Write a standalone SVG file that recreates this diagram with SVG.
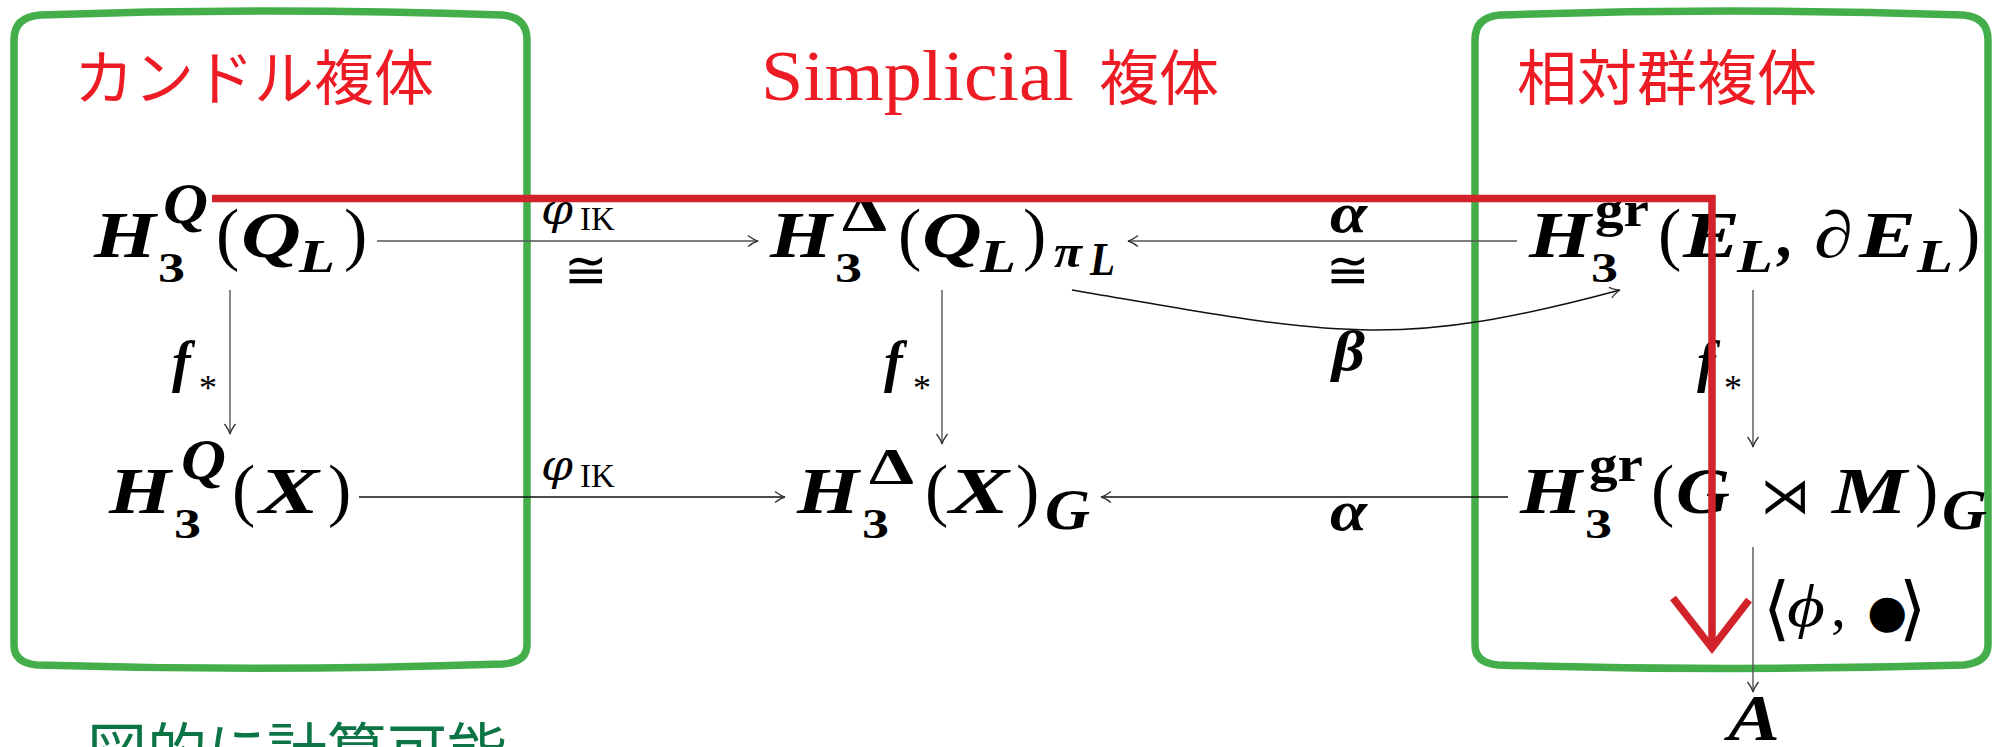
<svg xmlns="http://www.w3.org/2000/svg" width="2002" height="747" viewBox="0 0 2002 747">
<style>
.title{font-family:"Noto Sans CJK JP","Noto Sans",sans-serif;font-size:60px;fill:#ed1c24}
.serifT{font-family:"Liberation Serif",serif;font-size:72px;fill:#ed1c24}
.note{font-family:"Noto Sans CJK JP","Noto Sans",sans-serif;font-size:60px;fill:#0d7446}
.m{font-family:"Liberation Serif","DejaVu Serif",serif;fill:#000}
.bi{font-weight:bold;font-style:italic;font-size:66px}
.sup{font-weight:bold;font-style:italic;font-size:56px}
.supr{font-weight:bold;font-size:50px}
.s3{font-weight:bold;font-size:42px}
.sl{font-weight:bold;font-style:italic;font-size:46px}
.par{font-size:70px}
.lab{font-family:"DejaVu Serif",serif;font-style:italic;font-size:42px}
.labb{font-weight:bold;font-style:italic;font-size:56px}
.ik{font-size:33px}
.ast{font-size:36px}
.cong{font-family:"DejaVu Serif",serif;font-size:52px}
.sym{font-family:"DejaVu Sans",sans-serif}
.box{fill:none;stroke:#43ae4a;stroke-width:7.5;stroke-linejoin:round}
.c{fill:none;stroke:#555;stroke-width:1.4}
.k{fill:none;stroke:#111;stroke-width:1.5}
.red{fill:none;stroke:#d2232a;stroke-width:7.5;stroke-linejoin:miter}
</style>
<defs>
<marker id="ah" viewBox="-12 -7 14 14" markerWidth="14" markerHeight="14" refX="0" refY="0" orient="auto" markerUnits="userSpaceOnUse">
<path d="M-10,-5.5 Q-4,-1 0,0 Q-4,1 -10,5.5" fill="none" stroke="#333" stroke-width="1.3"/>
</marker>
</defs>

<g id="box-quandle">
<path class="box" d="M14,645 L14,40 Q14,17 40,15 Q270,7 502,15 Q527,17 527,40 L527,645 Q527,662 503,664 Q270,672 37,665 Q14,663 14,645 Z"/>
<text class="title" x="74" y="100">カンドル複体</text>
</g>

<g id="title-simplicial">
<text class="serifT" x="761" y="100" textLength="313" lengthAdjust="spacingAndGlyphs">Simplicial</text>
<text class="title" x="1099" y="100">複体</text>
</g>

<g id="box-group">
<path class="box" d="M1475,645 L1475,40 Q1475,17 1500,15 Q1730,7 1963,15 Q1988,17 1988,40 L1988,645 Q1988,662 1964,665 Q1730,672 1498,665 Q1475,663 1475,645 Z"/>
<text class="title" x="1517" y="100">相対群複体</text>
</g>

<g id="connectors">
<line class="c" x1="377" y1="241" x2="758" y2="241" marker-end="url(#ah)"/>
<line class="c" x1="1517" y1="241" x2="1128" y2="241" marker-end="url(#ah)"/>
<line class="k" x1="359" y1="497" x2="785" y2="497" marker-end="url(#ah)"/>
<line class="k" x1="1508" y1="497" x2="1101" y2="497" marker-end="url(#ah)"/>
<line class="c" x1="230" y1="290" x2="230" y2="434" marker-end="url(#ah)"/>
<line class="c" x1="942" y1="290" x2="942" y2="444" marker-end="url(#ah)"/>
<line class="c" x1="1753" y1="290" x2="1753" y2="447" marker-end="url(#ah)"/>
<line class="c" x1="1753" y1="547" x2="1753" y2="692" marker-end="url(#ah)"/>
<path class="k" d="M1072,290 C1330,334 1390,352 1620,290" marker-end="url(#ah)"/>
<g id="labels">
<text class="m"><tspan class="lab" x="541" y="224" textLength="32" lengthAdjust="spacingAndGlyphs">φ</tspan><tspan class="ik" x="580" y="230">IK</tspan></text>
<text class="cong" x="564" y="288">≅</text>
<text class="m"><tspan class="lab" x="541" y="480" textLength="32" lengthAdjust="spacingAndGlyphs">φ</tspan><tspan class="ik" x="580" y="487">IK</tspan></text>
<text class="m labb" x="1330" y="232" textLength="37" lengthAdjust="spacingAndGlyphs">α</text>
<text class="cong" x="1326" y="288">≅</text>
<text class="m labb" x="1332" y="370" textLength="33" lengthAdjust="spacingAndGlyphs">β</text>
<text class="m labb" x="1330" y="530" textLength="37" lengthAdjust="spacingAndGlyphs">α</text>
<text class="m"><tspan class="labb" x="172" y="381">f</tspan><tspan class="ast" x="199" y="400">*</tspan></text>
<text class="m"><tspan class="labb" x="884" y="381">f</tspan><tspan class="ast" x="913" y="400">*</tspan></text>
<text class="m"><tspan class="labb" x="1697" y="381">f</tspan><tspan class="ast" x="1724" y="400">*</tspan></text>
<text class="m" font-size="60"><tspan class="sym" font-size="70" x="1763" y="632">⟨</tspan><tspan font-style="italic" x="1787" y="626" textLength="38" lengthAdjust="spacingAndGlyphs">ϕ</tspan><tspan x="1831" y="626">,</tspan><tspan class="sym" font-size="46" x="1867" y="627">●</tspan><tspan class="sym" font-size="70" x="1899" y="632">⟩</tspan></text>
</g>
</g>

<g id="node-hq-ql">
<text class="m"><tspan class="bi" x="94" y="257" textLength="62" lengthAdjust="spacingAndGlyphs">H</tspan><tspan class="sup" x="163" y="223" textLength="45" lengthAdjust="spacingAndGlyphs">Q</tspan><tspan class="s3" x="158" y="282" textLength="27" lengthAdjust="spacingAndGlyphs">3</tspan><tspan class="par" x="216" y="257">(</tspan><tspan class="bi" x="241" y="257" textLength="60" lengthAdjust="spacingAndGlyphs">Q</tspan><tspan class="sl" x="299" y="272" textLength="36" lengthAdjust="spacingAndGlyphs">L</tspan><tspan class="par" x="344" y="257">)</tspan></text>
</g>

<g id="node-hd-ql">
<text class="m"><tspan class="bi" x="770" y="257" textLength="62" lengthAdjust="spacingAndGlyphs">H</tspan><tspan class="supr" x="842" y="230" textLength="45" lengthAdjust="spacingAndGlyphs">Δ</tspan><tspan class="s3" x="835" y="282" textLength="27" lengthAdjust="spacingAndGlyphs">3</tspan><tspan class="par" x="898" y="257">(</tspan><tspan class="bi" x="922" y="257" textLength="60" lengthAdjust="spacingAndGlyphs">Q</tspan><tspan class="sl" x="980" y="272" textLength="36" lengthAdjust="spacingAndGlyphs">L</tspan><tspan class="par" x="1023" y="257">)</tspan><tspan class="sl" x="1054" y="267" textLength="28" lengthAdjust="spacingAndGlyphs">π</tspan><tspan class="sl" font-size="36" x="1090" y="275" textLength="25" lengthAdjust="spacingAndGlyphs">L</tspan></text>
</g>

<g id="node-hgr-el">
<text class="m"><tspan class="bi" x="1529" y="257" textLength="62" lengthAdjust="spacingAndGlyphs">H</tspan><tspan class="supr" x="1595" y="226" textLength="54" lengthAdjust="spacingAndGlyphs">gr</tspan><tspan class="s3" x="1591" y="282" textLength="27" lengthAdjust="spacingAndGlyphs">3</tspan><tspan class="par" x="1658" y="257">(</tspan><tspan class="bi" x="1683" y="257" textLength="57" lengthAdjust="spacingAndGlyphs">E</tspan><tspan class="sl" x="1737" y="272" textLength="36" lengthAdjust="spacingAndGlyphs">L</tspan><tspan class="bi" x="1778" y="257">,</tspan><tspan class="bi" x="1814" y="257" textLength="39" lengthAdjust="spacingAndGlyphs">∂</tspan><tspan class="bi" x="1859" y="257" textLength="57" lengthAdjust="spacingAndGlyphs">E</tspan><tspan class="sl" x="1917" y="272" textLength="36" lengthAdjust="spacingAndGlyphs">L</tspan><tspan class="par" x="1957" y="257">)</tspan></text>
</g>

<g id="node-hq-x">
<text class="m"><tspan class="bi" x="109" y="513" textLength="62" lengthAdjust="spacingAndGlyphs">H</tspan><tspan class="sup" x="181" y="479" textLength="45" lengthAdjust="spacingAndGlyphs">Q</tspan><tspan class="s3" x="174" y="538" textLength="27" lengthAdjust="spacingAndGlyphs">3</tspan><tspan class="par" x="232" y="513">(</tspan><tspan class="bi" x="259" y="513" textLength="60" lengthAdjust="spacingAndGlyphs">X</tspan><tspan class="par" x="328" y="513">)</tspan></text>
</g>

<g id="node-hd-x">
<text class="m"><tspan class="bi" x="797" y="513" textLength="62" lengthAdjust="spacingAndGlyphs">H</tspan><tspan class="supr" x="869" y="483" textLength="45" lengthAdjust="spacingAndGlyphs">Δ</tspan><tspan class="s3" x="862" y="538" textLength="27" lengthAdjust="spacingAndGlyphs">3</tspan><tspan class="par" x="925" y="513">(</tspan><tspan class="bi" x="949" y="513" textLength="60" lengthAdjust="spacingAndGlyphs">X</tspan><tspan class="par" x="1016" y="513">)</tspan><tspan class="sup" x="1045" y="529" textLength="45" lengthAdjust="spacingAndGlyphs">G</tspan></text>
</g>

<g id="node-hgr-gm">
<text class="m"><tspan class="bi" x="1520" y="513" textLength="62" lengthAdjust="spacingAndGlyphs">H</tspan><tspan class="supr" x="1589" y="481" textLength="54" lengthAdjust="spacingAndGlyphs">gr</tspan><tspan class="s3" x="1585" y="538" textLength="27" lengthAdjust="spacingAndGlyphs">3</tspan><tspan class="par" x="1651" y="513">(</tspan><tspan class="bi" x="1676" y="513" textLength="54" lengthAdjust="spacingAndGlyphs">G</tspan><tspan class="sym" font-size="50" x="1760" y="513">⋊</tspan><tspan class="bi" x="1832" y="513" textLength="75" lengthAdjust="spacingAndGlyphs">M</tspan><tspan class="par" x="1915" y="513">)</tspan><tspan class="sup" x="1942" y="529" textLength="45" lengthAdjust="spacingAndGlyphs">G</tspan></text>
</g>

<g id="node-a">
<text class="m bi" x="1728" y="740" textLength="52" lengthAdjust="spacingAndGlyphs">A</text>
</g>

<g id="highlight">
<polyline class="red" points="212,198.5 1712,198.5 1712,648"/>
<polyline class="red" points="1673,598 1712,648 1749,600"/>
</g>

<g id="note">
<text class="note" x="87" y="773">図的に計算可能</text>
</g>
</svg>
